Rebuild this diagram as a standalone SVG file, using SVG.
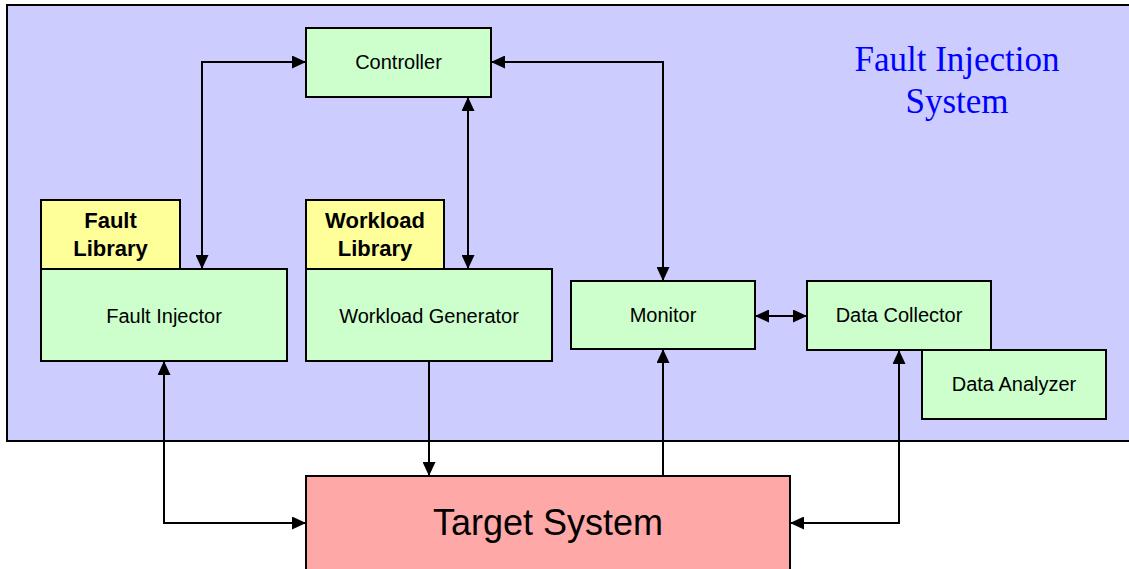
<svg xmlns="http://www.w3.org/2000/svg" width="1129" height="569" viewBox="0 0 1129 569">
  <style>
    .box { stroke: #000; stroke-width: 2; }
    .fis { fill: #CCCCFF; }
    .comp { fill: #CCFFCC; }
    .lib { fill: #FFFF99; }
    .target { fill: #FFA8A8; }
    .lbl { font-family: "Liberation Sans", Arial, sans-serif; font-size: 20px; fill: #000; text-anchor: middle; }
    .libl { font-family: "Liberation Sans", Arial, sans-serif; font-size: 22px; font-weight: bold; fill: #000; text-anchor: middle; }
    .title { font-family: "Liberation Serif", "Times New Roman", serif; font-size: 35px; fill: #0000FF; text-anchor: middle; }
    .big { font-family: "Liberation Sans", Arial, sans-serif; font-size: 36px; fill: #000; text-anchor: middle; }
    .wire { fill: none; stroke: #000; stroke-width: 2; }
  </style>
  <defs>
    <marker id="arrow" viewBox="0 0 14 13" refX="14" refY="6.5" markerWidth="14" markerHeight="13" markerUnits="userSpaceOnUse" orient="auto-start-reverse">
      <path d="M0,0 L14,6.5 L0,13 Z" fill="#000"/>
    </marker>
  </defs>

  <!-- enclosing fault injection system -->
  <g id="fault-injection-system">
    <rect class="box fis" x="7" y="5" width="1130" height="436"/>
    <text class="title" x="957" y="71">Fault Injection</text>
    <text class="title" x="957" y="113">System</text>
  </g>

  <g id="controller">
    <rect class="box comp" x="306" y="28" width="185" height="69"/>
    <text class="lbl" x="398.5" y="69">Controller</text>
  </g>

  <g id="fault-library">
    <rect class="box lib" x="41" y="200" width="139" height="69"/>
    <text class="libl" x="110.5" y="228">Fault</text>
    <text class="libl" x="110.5" y="256">Library</text>
  </g>

  <g id="fault-injector">
    <rect class="box comp" x="41" y="269" width="246" height="92"/>
    <text class="lbl" x="164" y="323">Fault Injector</text>
  </g>

  <g id="workload-library">
    <rect class="box lib" x="306" y="200" width="138" height="69"/>
    <text class="libl" x="375" y="228">Workload</text>
    <text class="libl" x="375" y="256">Library</text>
  </g>

  <g id="workload-generator">
    <rect class="box comp" x="306" y="269" width="246" height="92"/>
    <text class="lbl" x="429" y="323">Workload Generator</text>
  </g>

  <g id="monitor">
    <rect class="box comp" x="571" y="281" width="184" height="68"/>
    <text class="lbl" x="663" y="322">Monitor</text>
  </g>

  <g id="data-collector">
    <rect class="box comp" x="807" y="281" width="184" height="69"/>
    <text class="lbl" x="899" y="322">Data Collector</text>
  </g>

  <g id="data-analyzer">
    <rect class="box comp" x="922" y="350" width="184" height="69"/>
    <text class="lbl" x="1014" y="391">Data Analyzer</text>
  </g>

  <g id="target-system">
    <rect class="box target" x="306" y="476" width="484" height="110"/>
    <text class="big" x="548" y="535">Target System</text>
  </g>

  <g id="connectors">
    <!-- fault injector <-> controller -->
    <path class="wire" d="M202,269 L202,62 L306,62" marker-start="url(#arrow)" marker-end="url(#arrow)"/>
    <!-- workload generator <-> controller -->
    <path class="wire" d="M468,269 L468,97" marker-start="url(#arrow)" marker-end="url(#arrow)"/>
    <!-- controller <-> monitor -->
    <path class="wire" d="M491,62 L663,62 L663,281" marker-start="url(#arrow)" marker-end="url(#arrow)"/>
    <!-- monitor <-> data collector -->
    <path class="wire" d="M755,316 L807,316" marker-start="url(#arrow)" marker-end="url(#arrow)"/>
    <!-- fault injector <-> target -->
    <path class="wire" d="M164,361 L164,523 L306,523" marker-start="url(#arrow)" marker-end="url(#arrow)"/>
    <!-- workload generator -> target -->
    <path class="wire" d="M429,361 L429,476" marker-end="url(#arrow)"/>
    <!-- target -> monitor -->
    <path class="wire" d="M663,476 L663,349" marker-end="url(#arrow)"/>
    <!-- data collector <-> target -->
    <path class="wire" d="M899,350 L899,523 L790,523" marker-start="url(#arrow)" marker-end="url(#arrow)"/>
  </g>
</svg>
